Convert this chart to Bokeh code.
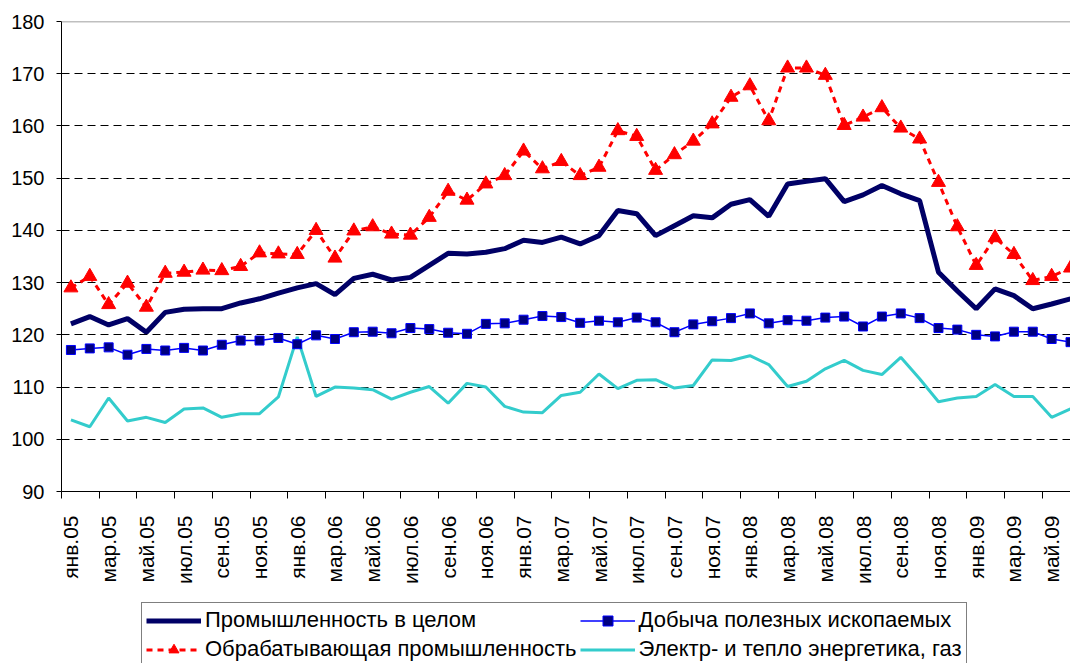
import math
from bokeh.plotting import figure
from bokeh.layouts import column
from bokeh.models import FixedTicker, Span, Legend, LegendItem, Range1d
from bokeh.embed import file_html
from bokeh.resources import INLINE

month_names = ["янв", "фев", "мар", "апр", "май", "июн", "июл", "авг", "сен", "окт", "ноя", "дек"]
years = ["05", "06", "07", "08", "09"]
categories = [f"{m}.{y}" for y in years for m in month_names][:54]

total = [122.1, 123.5, 121.9, 123.1, 120.5, 124.3, 124.9, 125.0, 125.0, 126.1, 126.9, 128.0,
         129.0, 129.8, 127.7, 130.8, 131.6, 130.5, 131.0, 133.3, 135.6, 135.5, 135.8, 136.5,
         138.1, 137.7, 138.7, 137.4, 139.0, 143.8, 143.2, 139.0, 140.9, 142.8, 142.4, 145.0,
         145.9, 142.7, 148.9, 149.4, 149.9, 145.5, 146.8, 148.6, 147.0, 145.7, 132.0, 128.4,
         125.0, 128.8, 127.5, 125.0, 125.9, 126.9]
mining = [117.1, 117.4, 117.6, 116.2, 117.3, 117.0, 117.5, 117.0, 118.1, 118.9, 118.9, 119.4,
          118.2, 119.9, 119.2, 120.5, 120.6, 120.3, 121.3, 121.1, 120.4, 120.2, 122.1, 122.2,
          122.9, 123.6, 123.4, 122.3, 122.7, 122.4, 123.3, 122.4, 120.5, 122.0, 122.6, 123.2,
          124.1, 122.2, 122.8, 122.7, 123.3, 123.5, 121.6, 123.5, 124.1, 123.2, 121.3, 121.0,
          120.0, 119.7, 120.6, 120.6, 119.2, 118.6]
manufacturing = [129.0, 131.2, 125.8, 129.9, 125.3, 131.8, 132.0, 132.4, 132.3, 133.1, 135.7, 135.5,
                 135.4, 140.0, 134.7, 139.9, 140.7, 139.3, 139.1, 142.5, 147.5, 145.8, 148.9, 150.5,
                 155.2, 151.8, 153.2, 150.5, 152.1, 159.1, 158.0, 151.5, 154.5, 157.1, 160.4, 165.5,
                 167.7, 161.0, 171.1, 171.1, 169.7, 160.1, 161.7, 163.5, 159.6, 157.5, 149.2, 140.7,
                 133.3, 138.6, 135.4, 130.4, 131.2, 132.8]
energy = [103.7, 102.4, 107.9, 103.5, 104.2, 103.2, 105.8, 106.0, 104.2, 104.9, 104.9, 108.1,
          119.6, 108.2, 110.0, 109.8, 109.5, 107.7, 109.0, 110.1, 106.9, 110.7, 110.0, 106.3,
          105.2, 105.1, 108.4, 109.0, 112.5, 109.7, 111.3, 111.4, 109.8, 110.3, 115.2, 115.1,
          116.0, 114.3, 110.1, 111.1, 113.5, 115.1, 113.2, 112.4, 115.7, 111.6, 107.2, 107.9,
          108.2, 110.5, 108.2, 108.2, 104.2, 105.8]
y_ticks = [90, 100, 110, 120, 130, 140, 150, 160, 170, 180]
series_labels = ["Промышленность в целом", "Добыча полезных ископаемых",
                 "Обрабатывающая промышленность", "Электр- и тепло энергетика, газ"]

x = list(range(len(categories)))
FONT = "Liberation Sans"

p = figure(width=1070, height=600, x_range=Range1d(-0.5, 53.0), y_range=Range1d(90, 180),
           output_backend="svg", toolbar_location=None,
           min_border_left=61, min_border_top=21, min_border_right=0, min_border_bottom=109)
p.outline_line_color = None
p.background_fill_color = "white"
p.border_fill_color = "white"

# grid
p.xgrid.visible = False
p.ygrid.ticker = FixedTicker(ticks=y_ticks[1:-1])
p.ygrid.grid_line_color = "black"
p.ygrid.grid_line_dash = "8 5"
p.ygrid.grid_line_width = 1
p.add_layout(Span(location=180, dimension="width", line_color="#808080", line_width=1.5))

# y axis
p.yaxis.ticker = FixedTicker(ticks=y_ticks)
p.yaxis.axis_line_color = "black"
p.yaxis.major_tick_line_color = "black"
p.yaxis.major_tick_in = 0
p.yaxis.major_tick_out = 5
p.yaxis.minor_tick_line_color = None
p.yaxis.major_label_text_font = FONT
p.yaxis.major_label_text_font_size = "20px"
p.yaxis.major_label_text_color = "black"
p.yaxis.major_label_standoff = 12

# x axis
p.xaxis.ticker = FixedTicker(ticks=x[::2], minor_ticks=[i - 0.5 for i in range(0, 56, 2)])
p.xaxis.major_label_overrides = {i: categories[i] for i in x[::2]}
p.xaxis.major_label_orientation = math.pi / 2
p.xaxis.major_tick_in = 0
p.xaxis.major_tick_out = 0
p.xaxis.minor_tick_in = 0
p.xaxis.minor_tick_out = 7
p.xaxis.minor_tick_line_color = "black"
p.xaxis.axis_line_color = "black"
p.xaxis.major_label_text_font = FONT
p.xaxis.major_label_text_font_size = "21px"
p.xaxis.major_label_text_color = "black"
p.xaxis.major_label_standoff = 17

styles = dict(
    en=dict(line_color="#33CCCC", line_width=3),
    min_l=dict(line_color="#0000FF", line_width=1.5),
    min_p=dict(marker="square", size=9, fill_color="#000080", line_color="#0000FF", line_width=1),
    man_l=dict(line_color="#FF0000", line_width=3, line_dash="6 5"),
    man_p=dict(marker="triangle", size=14, fill_color="#FF0000", line_color="#FF0000"),
    tot=dict(line_color="#000066", line_width=5),
)

# series
p.line(x, energy, **styles["en"])
p.line(x, mining, **styles["min_l"])
p.scatter(x, mining, **styles["min_p"])
p.line(x, manufacturing, **styles["man_l"])
p.scatter(x, manufacturing, **styles["man_p"])
p.line(x, total, **styles["tot"])

# legend strip (separate figure so the legend is not clipped by the chart frame)
lf = figure(width=1070, height=63, x_range=Range1d(0, 1), y_range=Range1d(0, 1),
            output_backend="svg", toolbar_location=None, x_axis_type=None, y_axis_type=None,
            min_border=0)
lf.outline_line_color = None
lf.xgrid.visible = False
lf.ygrid.visible = False
hx, hy = [-10, -9], [-10, -10]   # legend-only proxies, outside the visible range
d_tot = lf.line(hx, hy, **styles["tot"])
d_min_l = lf.line(hx, hy, **styles["min_l"])
d_min_p = lf.scatter(hx, hy, **styles["min_p"])
d_man_l = lf.line(hx, hy, **styles["man_l"])
d_man_p = lf.scatter(hx, hy, **styles["man_p"])
d_en = lf.line(hx, hy, **styles["en"])

legend = Legend(items=[
    LegendItem(label=series_labels[0], renderers=[d_tot]),
    LegendItem(label=series_labels[1], renderers=[d_min_l, d_min_p]),
    LegendItem(label=series_labels[2], renderers=[d_man_l, d_man_p]),
    LegendItem(label=series_labels[3], renderers=[d_en]),
], location=(80, -4), orientation="horizontal", ncols=2)
legend.label_text_font = FONT
legend.label_text_font_size = "22px"
legend.label_text_color = "black"
legend.border_line_color = "black"
legend.border_line_width = 1
legend.background_fill_color = "white"
legend.background_fill_alpha = 1
legend.padding = 4
legend.margin = 0
legend.spacing = 3
legend.glyph_width = 55
legend.glyph_height = 25
legend.label_height = 25
legend.label_standoff = 4
lf.add_layout(legend)

layout = column(p, lf, spacing=0)
open("out.html", "w").write(file_html(layout, INLINE))
